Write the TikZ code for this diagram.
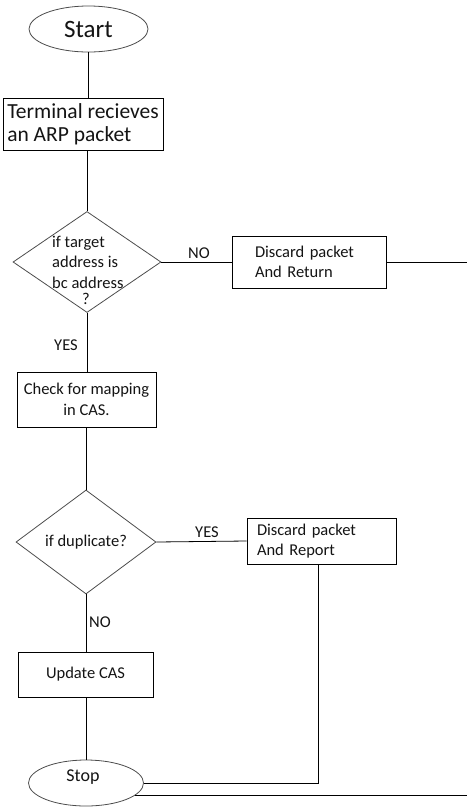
\documentclass[tikz,border=0pt]{standalone}
\usepackage{fontspec}
\setmainfont{Carlito}
\usetikzlibrary{shapes.geometric}
\begin{document}
\begin{tikzpicture}[x=1pt,y=-1pt,
  line/.style={draw=black, line width=0.8pt},
  boxnode/.style={draw=black, line width=0.8pt, rectangle, inner sep=0pt, text=black!92},
  term/.style={draw=black!70, line width=0.8pt, ellipse, inner sep=0pt, text=black!92},
  dec/.style={draw=black!70, line width=0.8pt, diamond, inner sep=0pt, text=black!92},
  smallfont/.style={font=\fontsize{16.5}{20.5}\selectfont},
  txt/.style={smallfont, inner sep=0pt, text=black!92},
]
\useasboundingbox (0,0) rectangle (467,807);

\node[term, minimum width=119pt, minimum height=46pt, font=\fontsize{25}{28}\selectfont] (start) at (88.5,29) {Start};

\node[boxnode, minimum width=160pt, minimum height=52pt, align=left, font=\fontsize{21.5}{23}\selectfont] (term) at (83,124) {Terminal recieves\\an ARP packet};

\node[dec, minimum width=148pt, minimum height=101pt] (d1) at (87,262) {};
\node[txt, anchor=west, align=left] (d1t) at (52,262) {if target\\address is\\bc address};
\node[txt] (d1q) at (86,299) {?};

\node[boxnode, smallfont, minimum width=154pt, minimum height=52pt, text width=108pt, inner xsep=23pt, align=left] (ret) at (309,262) {Discard packet\\And Return};
\node[txt] (no1) at (199,253) {NO};
\node[txt] (yes1) at (66,345) {YES};

\node[boxnode, smallfont, minimum width=139pt, minimum height=55pt, align=center] (chk) at (86.5,399.5) {Check for mapping\\in CAS.};

\node[dec, smallfont, minimum width=140pt, minimum height=104pt] (d2) at (86,542) {if duplicate?};
\node[txt] (yes2) at (207,532) {YES};
\node[boxnode, smallfont, minimum width=149pt, minimum height=46pt, text width=129pt, inner xsep=10pt, align=left] (rep) at (321.5,541) {Discard packet\\And Report};
\node[txt] (no2) at (100,622) {NO};

\node[boxnode, smallfont, minimum width=135pt, minimum height=45pt] (upd) at (85.5,674.5) {Update CAS};

\node[term, minimum width=115pt, minimum height=46pt] (stop) at (86,783) {};
\node[txt, font=\fontsize{18}{20}\selectfont] (stopt) at (83,777) {Stop};

\coordinate (edgeA) at (467,262);
\coordinate (edgeB) at (467,796);

\draw[line] (start.south) -- (start.south |- term.north);
\draw[line] (term.south -| d1.north) -- (d1.north);
\draw[line] (d1.east) -- (ret.west);
\draw[line] (ret.east) -- (edgeA);
\draw[line] (d1.south) -- (d1.south |- chk.north);
\draw[line] (chk.south -| d2.north) -- (d2.north);
\draw[line] (d2.east) -- (rep.west);
\draw[line] (d2.south) -- (d2.south |- upd.north);
\draw[line] (upd.south -| stop.north) -- (stop.north);
\draw[line] ([xshift=-3pt]rep.south) |- (stop.east);
\draw[line] (stop.-14) -- (stop.-14 -| edgeB);
\end{tikzpicture}
\end{document}
